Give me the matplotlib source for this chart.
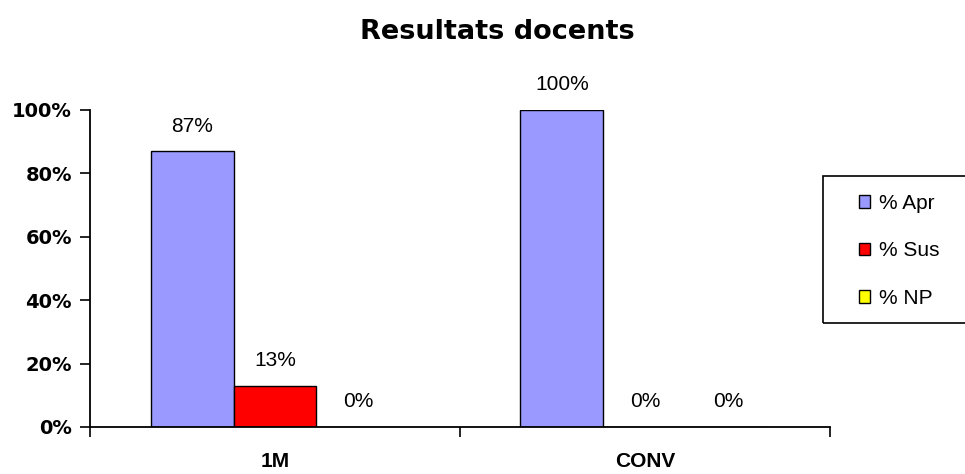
import matplotlib
matplotlib.use("Agg")
import matplotlib.pyplot as plt
from matplotlib.patches import Rectangle
import numpy as np
from matplotlib.ticker import FuncFormatter

plt.rcParams['font.family'] = ['Liberation Sans', 'DejaVu Sans']

categories = ["1M", "CONV"]
series_names = ["% Apr", "% Sus", "% NP"]
apr = [87, 100]
sus = [13, 0]
np_ = [0, 0]
colors = ["#9999FF", "#FF0000", "#FFFF00"]

fig = plt.figure(figsize=(9.65, 4.74), dpi=100)
ax = fig.add_axes([0.0933, 0.0992, 0.7667, 0.6688])

x = np.arange(len(categories))
w = 0.2243
handles = []
for i, (vals, name, c) in enumerate(zip([apr, sus, np_], series_names, colors)):
    bars = ax.bar(x + (i - 1) * w, vals, width=w, color=c, edgecolor="black",
                  linewidth=1.0, label=name)
    handles.append(bars)
    for xi, v in zip(x + (i - 1) * w, vals):
        ax.annotate(f"{v}%", (xi, v), xytext=(0, 18), textcoords="offset points",
                    ha="center", va="center", fontsize=15)

ax.set_xlim(-0.5, 1.5)
ax.set_ylim(0, 100)
ax.set_yticks([0, 20, 40, 60, 80, 100])
ax.yaxis.set_major_formatter(FuncFormatter(lambda v, p: f"{int(v)}%"))
ax.set_xticks([-0.5, 0.5, 1.5])
ax.set_xticklabels([])
ax.set_xticks(x, minor=True)
ax.set_xticklabels(categories, minor=True, fontsize=15, fontweight="bold")
ax.tick_params(axis="x", which="minor", length=0, pad=18)
ax.tick_params(axis="x", which="major", length=7, width=1.2, direction="out")
ax.tick_params(axis="y", length=7, width=1.2, direction="out", labelsize=14, pad=6)
for lab in ax.get_yticklabels():
    lab.set_fontweight("bold")
    lab.set_family("DejaVu Sans")
for s in ["top", "right"]:
    ax.spines[s].set_visible(False)
for s in ["left", "bottom"]:
    ax.spines[s].set_linewidth(1.3)

fig.text(497 / 965, 1 - 32 / 474, "Resultats docents", ha="center", va="center",
         fontsize=19.5, fontweight="bold", family="DejaVu Sans")

leg = fig.legend(handles=handles, labels=series_names, loc="upper left",
                 bbox_to_anchor=(859 / 965, 1 - 194 / 474), fontsize=15,
                 frameon=False, handlelength=0.55, handleheight=0.55,
                 handletextpad=0.42, labelspacing=1.36, borderpad=0,
                 borderaxespad=0)
fig.add_artist(Rectangle((823 / 965, 1 - 323 / 474), 0.2, 147 / 474,
                         transform=fig.transFigure, fill=False,
                         edgecolor="black", linewidth=1.2, clip_on=False))

fig.savefig("out.png", dpi=100)
